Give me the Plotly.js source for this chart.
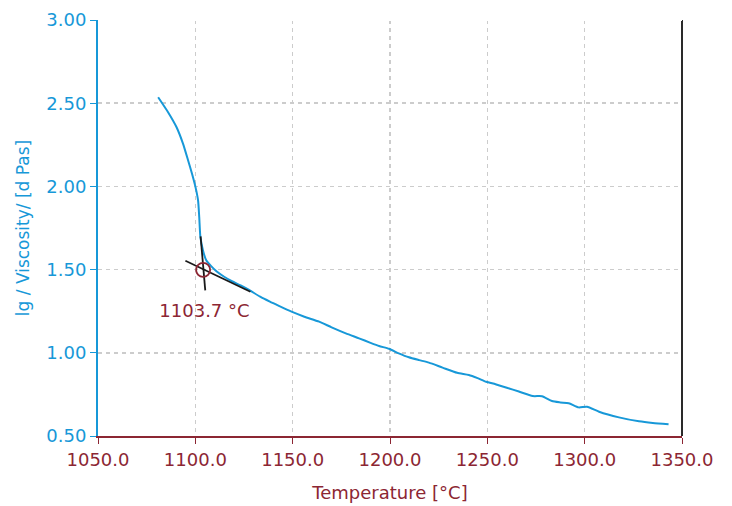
<!DOCTYPE html>
<html>
<head>
<meta charset="utf-8">
<script src="https://cdn.plot.ly/plotly-3.0.1.min.js"></script>
<style>html,body{margin:0;padding:0;background:#fff;}#chart{width:732px;height:506px;}</style>
</head>
<body>
<div id="chart"></div>
<script>
// Viscosity curve (temperature °C, lg viscosity dPas)
const temperature = [1080.9, 1086.0, 1090.3, 1093.7, 1096.3, 1098.3, 1100.0, 1101.4, 1102.0, 1102.6, 1103.9, 1105.6, 1108.0, 1111.0, 1114.8, 1118.8, 1123.3, 1127.6, 1133.3, 1138.3, 1143.2, 1149.4, 1156.0, 1163.6, 1170.0, 1177.3, 1184.1, 1190.0, 1194.4, 1199.5, 1204.5, 1209.7, 1215.0, 1220.0, 1227.0, 1234.5, 1240.5, 1245.0, 1249.4, 1254.2, 1260.0, 1266.2, 1273.3, 1278.1, 1283.2, 1287.5, 1291.8, 1296.9, 1301.2, 1307.4, 1317.6, 1327.9, 1335.0, 1343.1];
const lgViscosity = [2.536, 2.446, 2.357, 2.256, 2.156, 2.076, 2.000, 1.916, 1.816, 1.696, 1.616, 1.556, 1.522, 1.488, 1.457, 1.430, 1.405, 1.378, 1.337, 1.307, 1.280, 1.247, 1.217, 1.187, 1.153, 1.117, 1.087, 1.060, 1.041, 1.024, 0.997, 0.973, 0.956, 0.941, 0.911, 0.880, 0.867, 0.848, 0.826, 0.811, 0.790, 0.767, 0.740, 0.739, 0.710, 0.702, 0.697, 0.672, 0.676, 0.646, 0.612, 0.588, 0.578, 0.570];

// Tangent construction
const tangentSteepX = [1102.7, 1105.1];
const tangentSteepY = [1.70, 1.375];
const tangentFlatX = [1094.9, 1128.3];
const tangentFlatY = [1.553, 1.367];
const onsetX = [1104.0];
const onsetY = [1.498];
const onsetLabel = '1103.7 °C';
const labelX = 1104.7;
const labelY = 1.24;

const xTicks = [1050, 1100, 1150, 1200, 1250, 1300, 1350];
const yTicks = [0.5, 1.0, 1.5, 2.0, 2.5, 3.0];

const blue = '#1798d8';
const red = '#8c2633';
const font = 'DejaVu Sans, sans-serif';

const traces = [
  {x: temperature, y: lgViscosity, mode: 'lines', line: {color: blue, width: 2, shape: 'spline', smoothing: 0.6}, hoverinfo: 'skip'},
  {x: tangentSteepX, y: tangentSteepY, mode: 'lines', line: {color: '#1a1a1a', width: 1.8}},
  {x: tangentFlatX, y: tangentFlatY, mode: 'lines', line: {color: '#1a1a1a', width: 1.8}},
  {x: onsetX, y: onsetY, mode: 'markers', marker: {symbol: 'circle-open', size: 14, color: red, line: {color: red, width: 1.8}}},
  {x: [labelX], y: [labelY], mode: 'text', text: [onsetLabel], textposition: 'middle center',
   textfont: {family: font, size: 18, color: red}}
];

const layout = {
  width: 732, height: 506,
  margin: {l: 98, r: 50, t: 20, b: 70},
  showlegend: false,
  paper_bgcolor: '#fff', plot_bgcolor: '#fff',
  font: {family: font},
  xaxis: {
    range: [1050, 1350], tickvals: xTicks, ticktext: xTicks.map(v => v.toFixed(1)),
    showline: true, linecolor: red, linewidth: 2,
    ticks: 'outside', ticklen: 6, tickcolor: red, tickwidth: 1,
    tickfont: {family: font, size: 18, color: red},
    showgrid: true, gridcolor: '#cccccc', griddash: '4px,4px', gridwidth: 1.5,
    zeroline: false,
    title: {text: 'Temperature [°C]', font: {family: font, size: 18, color: red}, standoff: 18}
  },
  yaxis: {
    range: [0.5, 3.0], tickvals: yTicks, ticktext: yTicks.map(v => v.toFixed(2)),
    showline: true, linecolor: blue, linewidth: 2,
    ticks: 'outside', ticklen: 6, tickcolor: blue, tickwidth: 1,
    tickfont: {family: font, size: 18, color: blue},
    showgrid: true, gridcolor: '#cccccc', griddash: '4px,4px', gridwidth: 1.5,
    zeroline: false,
    title: {text: 'lg / Viscosity/ [d Pas]', font: {family: font, size: 17, color: blue}, standoff: 12}
  },
  shapes: [
    {type: 'line', xref: 'paper', yref: 'paper', x0: 1, x1: 1, y0: 0, y1: 1, line: {color: '#2a2a2a', width: 2}},
    {type: 'line', xref: 'paper', yref: 'paper', x0: 0.003, x1: 1, y0: 1, y1: 1, line: {color: '#ffffff', width: 2}}
  ]
};

Plotly.newPlot('chart', traces, layout, {displayModeBar: false, staticPlot: true});
</script>
</body>
</html>
